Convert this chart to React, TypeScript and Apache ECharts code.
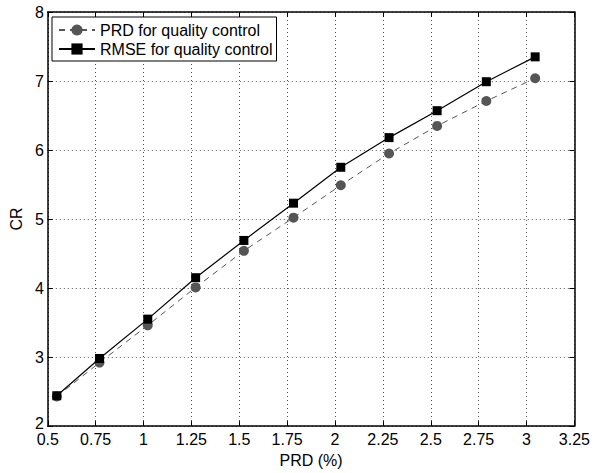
import React, { useEffect, useRef } from "react";
import * as echarts from "echarts";

const prdX = [0.547, 0.77, 1.022, 1.272, 1.524, 1.783, 2.03, 2.282, 2.533, 2.79, 3.045];
const prdCR = [2.43, 2.92, 3.46, 4.01, 4.54, 5.02, 5.49, 5.95, 6.35, 6.71, 7.04];
const rmseCR = [2.44, 2.98, 3.55, 4.15, 4.69, 5.23, 5.75, 6.18, 6.57, 6.99, 7.35];
const xTicks = [0.5, 0.75, 1, 1.25, 1.5, 1.75, 2, 2.25, 2.5, 2.75, 3, 3.25];

const FONT = "Liberation Sans, Arial, Helvetica, sans-serif";
const FS = 16;

export default function App() {
  const ref = useRef<HTMLDivElement>(null);
  useEffect(() => {
    const chart = echarts.init(ref.current!, null, { renderer: "svg" });
    const axisLine = { show: true, lineStyle: { color: "#000", width: 1.5 } };
    const tick = { show: true, inside: true, length: 5, lineStyle: { color: "#000", width: 1 } };
    const grid = { show: true, lineStyle: { color: "#555", type: [1, 3] as any, width: 1 } };
    chart.setOption({
      animation: false,
      textStyle: { fontFamily: FONT },
      grid: { left: 46, right: 15, top: 12, bottom: 42, containLabel: false },
      legend: {
        left: 52,
        top: 17,
        orient: "vertical",
        backgroundColor: "#fff",
        borderColor: "#000",
        borderWidth: 1,
        borderRadius: 0,
        padding: [5, 4, 4, 6],
        itemGap: 3,
        itemWidth: 36,
        itemHeight: 14,
        textStyle: { fontSize: FS, color: "#000", fontFamily: FONT },
        data: ["PRD for quality control", "RMSE for quality control"],
      },
      xAxis: [
        {
          type: "value",
          min: 0.5,
          max: 3.25,
          interval: 0.25,
          name: "PRD (%)",
          nameLocation: "middle",
          nameGap: 24,
          nameTextStyle: { fontSize: FS, color: "#000", fontFamily: FONT },
          axisLine,
          axisTick: tick,
          splitLine: grid,
          axisLabel: {
            fontSize: FS,
            color: "#000",
            margin: 5,
            fontFamily: FONT,
            formatter: (v: number) => {
              const m = xTicks.find((t) => Math.abs(t - v) < 1e-6);
              return m !== undefined ? String(m) : "";
            },
          },
        },
        {
          type: "value",
          position: "top",
          min: 0.5,
          max: 3.25,
          interval: 0.25,
          axisLine,
          axisTick: tick,
          splitLine: { show: false },
          axisLabel: { show: false },
        },
      ],
      yAxis: [
        {
          type: "value",
          min: 2,
          max: 8,
          interval: 1,
          name: "CR",
          nameLocation: "middle",
          nameGap: 18,
          nameTextStyle: { fontSize: FS, color: "#000", fontFamily: FONT },
          axisLine,
          axisTick: tick,
          splitLine: grid,
          axisLabel: {
            fontSize: FS,
            color: "#000",
            margin: 4,
            fontFamily: FONT,
            formatter: (v: number) => (v === 2 ? "{low|2}" : String(v)),
            rich: { low: { fontSize: FS, fontFamily: FONT, color: "#000", padding: [0, 0, 5, 0] } },
          },
        },
        {
          type: "value",
          position: "right",
          min: 2,
          max: 8,
          interval: 1,
          axisLine,
          axisTick: tick,
          splitLine: { show: false },
          axisLabel: { show: false },
        },
      ],
      series: [
        {
          name: "PRD for quality control",
          type: "line",
          data: prdX.map((x, i) => [x, prdCR[i]]),
          symbol: "circle",
          symbolSize: 10,
          itemStyle: { color: "#555" },
          lineStyle: { color: "#555", type: [6, 5] as any, width: 1 },
          z: 2,
        },
        {
          name: "RMSE for quality control",
          type: "line",
          data: prdX.map((x, i) => [x, rmseCR[i]]),
          symbol: "rect",
          symbolSize: 9,
          itemStyle: { color: "#000" },
          lineStyle: { color: "#000", width: 1.2 },
          z: 3,
        },
      ],
    });
    return () => chart.dispose();
  }, []);
  return <div ref={ref} style={{ width: 593, height: 473, position: "absolute", left: 0, top: 0, background: "#fff" }} />;
}
